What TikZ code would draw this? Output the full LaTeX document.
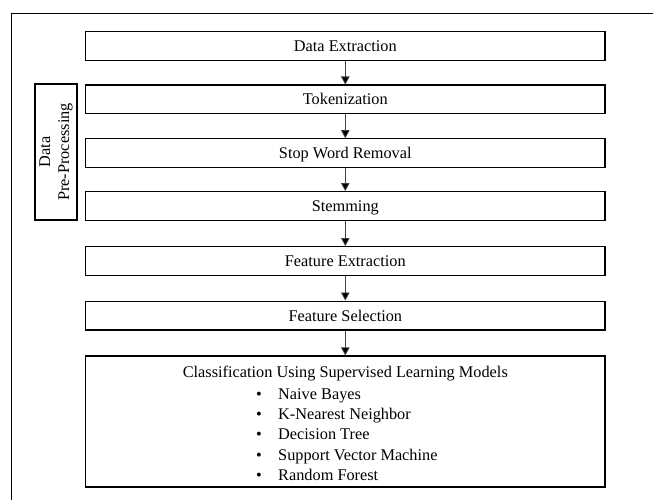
\documentclass[tikz,border=0pt]{standalone}
\usepackage{fontspec}
\setmainfont{Liberation Serif}
\usetikzlibrary{arrows.meta}
\begin{document}
\begin{tikzpicture}[x=1pt,y=-1pt,
  every node/.style={font=\fontsize{16.3}{19}\selectfont},
  stepbox/.style={draw=black, line width=1.2pt, minimum width=519.5pt, minimum height=28.8pt,
    inner sep=0pt, text height=11pt, text depth=0pt},
  arr/.style={draw=black!75, line width=0.8pt, -{Triangle[length=8pt,width=8.5pt,fill=black]}},
  txt/.style={anchor=base west, inner sep=0pt},
  bul/.style={anchor=base, inner sep=0pt}]
\useasboundingbox (0,0) rectangle (653,500);
\fill[white] (0,0) rectangle (653,500);
% outer frame (continues beyond the picture)
\draw[line width=1.3pt] (660,13.3) -- (11.5,13.3) -- (11.5,510);
% steps
\node[stepbox] (de) at (345.3,46.3) {Data Extraction};
\node[stepbox] (tok) at (345.3,99.5) {Tokenization};
\node[stepbox] (sw) at (345.3,153.2) {Stop Word Removal};
\node[stepbox] (stem) at (345.3,206) {Stemming};
\node[stepbox] (fe) at (345.3,261) {Feature Extraction};
\node[stepbox] (fs) at (345.3,315.5) {Feature Selection};
\node[draw=black, line width=1.2pt, minimum width=519.5pt, minimum height=131pt, inner sep=0pt] (cls) at (345.3,421.5) {};
% pre-processing label
\node[draw=black, line width=1.2pt, rotate=90, minimum width=136pt, minimum height=42pt,
  inner sep=0pt, align=center] (pre) at (56,152) {Data\\Pre-Processing};
% classification contents
\node[anchor=base, inner sep=0pt] (ctitle) at (345.3,377) {Classification Using Supervised Learning Models};
\node[bul] (b1) at (259,399) {\textbullet};
\node[txt] (t1) at (278,399) {Naive Bayes};
\node[bul] (b2) at (259,419.4) {\textbullet};
\node[txt] (t2) at (278,419.4) {K-Nearest Neighbor};
\node[bul] (b3) at (259,439.8) {\textbullet};
\node[txt] (t3) at (278,439.8) {Decision Tree};
\node[bul] (b4) at (259,460.2) {\textbullet};
\node[txt] (t4) at (278,460.2) {Support Vector Machine};
\node[bul] (b5) at (259,480.6) {\textbullet};
\node[txt] (t5) at (278,480.6) {Random Forest};
% arrows
\draw[arr] (de.south) -- (tok.north);
\draw[arr] (tok.south) -- (sw.north);
\draw[arr] (sw.south) -- (stem.north);
\draw[arr] (stem.south) -- (fe.north);
\draw[arr] (fe.south) -- (fs.north);
\draw[arr] (fs.south) -- (cls.north);
\end{tikzpicture}
\end{document}
